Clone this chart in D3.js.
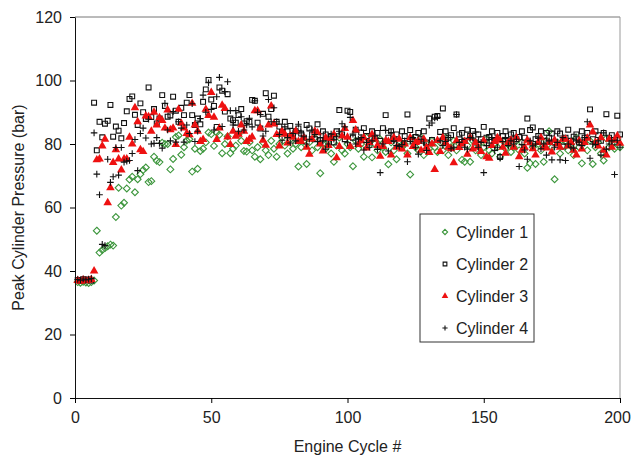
<!DOCTYPE html>
<html>
<head>
<meta charset="utf-8">
<script src="https://cdn.jsdelivr.net/npm/d3@7"></script>
<style>
    body { margin: 0; background: #fff; }
    text { font-family: Arial, "Liberation Sans", sans-serif; fill: #222; }
</style>
</head>
<body>
<script>
// peak pressure per engine cycle (cycles 1..200)
const cyl1 = [
    36.5, 36.3, 36.6, 36.4, 36.2, 36.5, 37.0, 52.7, 45.8, 46.6,
    47.2, 47.8, 48.3, 48.0, 57.0, 66.2, 60.6, 61.5, 66.0, 68.8,
    69.7, 64.8, 68.9, 70.5, 71.8, 72.6, 68.0, 68.3, 76.0, 74.7,
    74.3, 80.4, 80.0, 80.0, 72.0, 75.3, 82.2, 82.7, 76.6, 79.0,
    81.1, 81.5, 71.3, 78.5, 72.2, 77.8, 78.5, 80.5, 83.6, 83.1,
    79.4, 83.6, 82.9, 77.1, 80.0, 82.4, 77.1, 78.5, 79.5, 83.1,
    81.0, 77.8, 77.6, 80.5, 78.0, 76.0, 79.0, 75.2, 80.5, 78.0,
    76.5, 81.0, 78.5, 76.0, 80.0, 82.0, 79.5, 77.0, 81.5, 78.5,
    80.0, 72.9, 79.0, 81.0, 73.7, 80.5, 78.0, 82.0, 79.0, 70.8,
    80.0, 78.5, 81.0, 77.0, 74.4, 79.5, 82.0, 78.0, 77.0, 80.0,
    79.0, 73.0, 81.0, 78.5, 80.0, 76.0, 82.0, 79.5, 75.8, 80.0,
    78.0, 81.5, 79.0, 77.5, 73.6, 80.5, 78.0, 75.2, 81.0, 79.0,
    80.0, 77.0, 70.4, 81.5, 79.0, 78.0, 82.0, 76.5, 80.0, 78.5,
    81.0, 79.0, 77.5, 80.5, 78.0, 82.0, 76.5, 79.0, 81.0, 78.0,
    80.0, 75.0, 74.4, 79.5, 74.4, 81.0, 78.0, 80.0, 76.5, 79.0,
    81.5, 78.0, 77.0, 80.0, 79.0, 76.0, 81.0, 78.5, 80.0, 77.5,
    79.0, 81.0, 78.0, 80.5, 77.0, 72.5, 73.9, 79.0, 73.7, 80.0,
    78.0, 74.4, 81.0, 84.0, 79.0, 68.9, 80.5, 77.0, 79.5, 81.0,
    78.0, 80.0, 76.5, 82.0, 79.0, 73.9, 80.5, 78.0, 81.0, 73.7,
    79.0, 80.5, 77.0, 74.8, 81.7, 79.0, 80.0, 78.5, 81.4, 79.0
];

const cyl2 = [
    37.2, 37.0, 37.4, 37.1, 37.3, 37.0, 93.0, 78.0, 87.0, 82.1,
    86.4, 87.3, 92.3, 82.3, 85.5, 84.2, 81.8, 86.6, 90.3, 94.2,
    95.0, 89.2, 86.0, 92.8, 90.0, 87.9, 97.8, 88.5, 91.0, 86.5,
    88.0, 95.4, 92.0, 88.6, 89.0, 94.9, 90.5, 87.0, 91.4, 89.1,
    93.0, 95.4, 89.1, 86.0, 88.0, 86.2, 93.3, 97.2, 100.2, 94.0,
    92.0, 85.4, 97.8, 96.8, 90.2, 95.7, 88.0, 87.5, 86.7, 89.1,
    91.0, 86.5, 87.2, 87.0, 93.9, 93.6, 86.7, 84.9, 89.5, 96.0,
    88.6, 91.0, 95.2, 87.0, 85.5, 83.8, 87.0, 84.0, 85.7, 82.8,
    84.0, 84.9, 83.3, 82.0, 86.0, 84.9, 83.0, 81.5, 86.2, 81.2,
    84.0, 83.0, 81.7, 82.5, 80.5, 84.0, 90.7, 83.0, 81.5, 90.5,
    90.1, 82.0, 84.5, 81.0, 83.6, 85.0, 82.5, 80.5, 84.0, 82.0,
    83.5, 81.0, 85.0, 89.1, 82.0, 84.0, 81.5, 83.0, 80.5, 84.0,
    82.5, 89.3, 84.4, 81.0, 82.2, 83.5, 81.5, 84.0, 80.5, 88.0,
    81.3, 88.6, 88.8, 83.8, 91.2, 84.0, 82.0, 82.8, 85.0, 89.3,
    83.0, 83.5, 81.0, 84.5, 82.5, 84.1, 80.5, 83.0, 81.5, 85.4,
    82.0, 82.2, 84.0, 81.0, 83.5, 75.9, 82.5, 84.0, 81.0, 83.0,
    83.5, 81.5, 82.2, 84.0, 82.0, 88.0, 84.4, 85.2, 81.5, 82.5,
    84.0, 81.0, 83.5, 82.0, 83.3, 80.5, 84.0, 83.3, 79.2, 82.0,
    84.5, 81.0, 82.3, 83.0, 80.5, 84.0, 82.0, 83.5, 90.9, 81.5,
    84.0, 82.8, 81.0, 83.5, 89.4, 82.0, 82.8, 80.5, 88.9, 83.0
];

const cyl3 = [
    37.0, 36.8, 37.2, 36.9, 37.1, 37.3, 40.0, 75.0, 75.3, 79.4,
    81.5, 61.5, 66.2, 74.2, 78.2, 75.3, 71.8, 75.3, 75.3, 82.1,
    80.0, 91.4, 87.0, 78.2, 77.6, 88.8, 88.6, 84.0, 90.0, 86.0,
    88.3, 87.4, 85.0, 90.7, 84.5, 85.0, 79.8, 90.9, 86.5, 85.0,
    83.3, 82.9, 92.8, 86.0, 84.0, 80.8, 81.4, 90.9, 89.0, 96.2,
    88.4, 81.4, 85.0, 92.2, 91.2, 82.2, 79.8, 84.0, 82.4, 83.1,
    86.0, 84.0, 80.8, 81.5, 82.2, 90.5, 90.5, 85.0, 81.2, 79.6,
    86.0, 92.0, 86.3, 83.0, 79.4, 84.0, 83.1, 80.3, 82.5, 82.1,
    84.0, 80.8, 80.8, 82.0, 79.0, 76.8, 81.5, 84.0, 83.5, 80.0,
    77.8, 82.0, 79.5, 81.7, 83.0, 75.7, 79.2, 82.5, 84.9, 82.1,
    79.2, 87.4, 84.4, 79.8, 81.0, 82.0, 78.7, 80.5, 83.0, 81.5,
    79.5, 76.1, 79.2, 81.0, 80.8, 76.5, 82.0, 79.0, 81.5, 78.4,
    80.0, 76.5, 82.0, 79.2, 80.5, 80.8, 78.0, 81.5, 79.0, 77.3,
    80.0, 72.0, 81.1, 77.6, 82.0, 80.4, 79.0, 78.5, 74.1, 81.0,
    78.9, 80.0, 80.8, 76.8, 82.0, 78.4, 80.5, 79.0, 77.6, 81.0,
    76.0, 75.5, 79.5, 80.8, 82.0, 81.2, 79.0, 77.1, 80.5, 81.2,
    79.0, 82.0, 76.0, 78.0, 79.0, 81.2, 80.4, 78.5, 76.5, 80.5,
    82.0, 79.0, 78.7, 80.5, 77.5, 81.2, 80.0, 79.0, 81.5, 81.5,
    79.4, 80.5, 78.0, 76.5, 81.0, 78.4, 80.5, 81.8, 86.0, 83.8,
    80.5, 79.4, 82.0, 78.0, 76.5, 81.5, 79.0, 81.2, 82.5, 80.2
];

const cyl4 = [
    37.3, 37.1, 37.5, 37.2, 37.4, 37.6, 83.5, 70.5, 64.0, 48.4,
    48.0, 75.2, 67.9, 69.7, 78.9, 70.2, 78.9, 74.3, 74.6, 74.8,
    77.0, 81.4, 71.6, 83.3, 85.0, 81.9, 87.8, 80.0, 80.2, 82.0,
    80.2, 78.7, 92.8, 84.4, 81.0, 90.2, 80.6, 87.0, 85.0, 80.6,
    86.0, 83.3, 92.7, 80.8, 84.0, 88.0, 95.4, 90.0, 99.3, 90.9,
    84.4, 94.9, 101.0, 85.5, 96.5, 99.6, 90.5, 86.0, 90.5, 84.0,
    88.6, 84.4, 86.0, 88.1, 85.4, 93.6, 90.0, 89.3, 82.5, 84.0,
    94.0, 87.0, 91.4, 87.0, 83.0, 81.2, 85.4, 82.0, 80.3, 83.3,
    81.0, 86.2, 83.5, 82.3, 80.0, 81.5, 84.4, 83.0, 80.8, 82.0,
    81.0, 78.4, 80.0, 83.1, 81.5, 82.3, 84.0, 86.4, 85.4, 80.4,
    88.4, 83.1, 80.0, 81.5, 82.0, 78.1, 80.5, 79.0, 81.0, 82.5,
    78.3, 71.0, 80.0, 84.3, 77.8, 83.6, 81.0, 79.5, 79.2, 79.8,
    81.0, 74.4, 80.8, 82.0, 79.0, 76.8, 81.5, 80.3, 78.0, 85.9,
    86.6, 88.2, 88.4, 81.0, 79.5, 80.8, 82.0, 78.5, 79.0, 89.3,
    80.5, 81.4, 79.0, 78.4, 82.0, 81.9, 83.8, 79.0, 80.5, 71.0,
    79.5, 80.3, 82.0, 78.0, 79.0, 75.5, 80.8, 82.0, 79.5, 81.0,
    80.0, 81.5, 72.9, 79.8, 78.1, 75.2, 81.0, 79.4, 80.0, 81.9,
    78.5, 80.0, 76.5, 81.0, 75.0, 79.0, 80.5, 75.0, 82.0, 74.8,
    80.0, 79.0, 78.7, 81.0, 80.6, 79.5, 82.0, 87.0, 75.5, 80.0,
    79.8, 81.0, 76.5, 83.5, 78.4, 80.0, 81.0, 70.4, 81.2, 79.0
];

const seriesNames = ['Cylinder 1', 'Cylinder 2', 'Cylinder 3', 'Cylinder 4'];
const xTicks = [0, 50, 100, 150, 200];
const yTicks = [0, 20, 40, 60, 80, 100, 120];

const width = 631;
const height = 459;

const marginTop = 17;
const marginRight = 11;
const marginBottom = 61;
const marginLeft = 75;

const svg = d3.select('body').append('svg')
    .attr('width', width)
    .attr('height', height);

const x = d3.scaleLinear()
    .domain([0, 200])
    .range([marginLeft, width - marginRight]);

const y = d3.scaleLinear()
    .domain([0, 120])
    .range([height - marginBottom, marginTop]);

// top and right frame lines (grey)
svg.append('line')
    .attr('x1', x(0)).attr('x2', x(200))
    .attr('y1', y(120)).attr('y2', y(120))
    .attr('stroke', '#777').attr('stroke-width', 1);
svg.append('line')
    .attr('x1', x(200)).attr('x2', x(200))
    .attr('y1', y(120)).attr('y2', y(0))
    .attr('stroke', '#999').attr('stroke-width', 1);

// markers
const symbols = [
    { type: d3.symbolDiamond2, size: 30, fill: 'none', stroke: '#3c963c' },
    { type: d3.symbolSquare2, size: 30, fill: 'none', stroke: '#111' },
    { type: d3.symbolTriangle, size: 32, fill: '#ee1111', stroke: 'none' },
    { type: d3.symbolCross, size: 40, fill: 'none', stroke: '#111' }
];

function drawMark(sel, i, size)
{
    const s = symbols[i];
    if (i === 3)
    {
        const h = size + 0.3;
        sel.append('path')
            .attr('d', `M${-h},0H${h}M0,${-h}V${h}`)
            .attr('fill', 'none')
            .attr('stroke', s.stroke)
            .attr('stroke-width', 1.1);
    }
    else
    {
        sel.append('path')
            .attr('d', d3.symbol(s.type, s.size * size * size / 9)())
            .attr('fill', s.fill)
            .attr('stroke', s.stroke)
            .attr('stroke-width', 1.1);
    }
}

const allSeries = [cyl1, cyl2, cyl3, cyl4];

allSeries.forEach((values, i) =>
{
    const g = svg.append('g').attr('class', 'series-' + (i + 1));
    g.selectAll('g')
        .data(values)
        .enter()
        .append('g')
        .attr('transform', (d, k) => `translate(${x(k + 1)}, ${y(d)})`)
        .each(function () { drawMark(d3.select(this), i, 3); });
});

// x-axis
svg.append('g')
    .attr('transform', `translate(0, ${y(0)})`)
    .call(d3.axisBottom(x).tickValues(xTicks).tickSize(5).tickSizeOuter(0).tickPadding(9))
    .call(g => g.selectAll('text').attr('font-size', 16).attr('font-family', 'Arial, "Liberation Sans", sans-serif').attr('fill', '#222'))
    .call(g => g.selectAll('.tick').filter(d => d === 200).select('text').attr('dx', -3))
    .call(g => g.select('.domain').attr('stroke', '#111'));

// y-axis
svg.append('g')
    .attr('transform', `translate(${x(0)}, 0)`)
    .call(d3.axisLeft(y).tickValues(yTicks).tickSize(5).tickSizeOuter(0).tickPadding(8))
    .call(g => g.selectAll('text').attr('font-size', 16).attr('font-family', 'Arial, "Liberation Sans", sans-serif').attr('fill', '#222'))
    .call(g => g.select('.domain').attr('stroke', '#111'));

// axis titles
svg.append('text')
    .attr('x', (x(0) + x(200)) / 2)
    .attr('y', 452)
    .attr('text-anchor', 'middle')
    .attr('font-size', 16)
    .text('Engine Cycle #');

svg.append('text')
    .attr('transform', `translate(24, ${(y(0) + y(120)) / 2}) rotate(-90)`)
    .attr('text-anchor', 'middle')
    .attr('font-size', 16)
    .text('Peak Cylinder Pressure (bar)');

// legend
const legend = svg.append('g').attr('transform', 'translate(420, 214)');
legend.append('rect')
    .attr('width', 114)
    .attr('height', 128)
    .attr('fill', '#fff')
    .attr('stroke', '#333')
    .attr('stroke-width', 1);

seriesNames.forEach((name, i) =>
{
    const row = legend.append('g').attr('transform', `translate(25, ${18 + i * 32})`);
    drawMark(row.append('g'), i, 2.3);
    row.append('text')
        .attr('x', 11)
        .attr('y', 6)
        .attr('font-size', 16)
        .text(name);
});
</script>
</body>
</html>
